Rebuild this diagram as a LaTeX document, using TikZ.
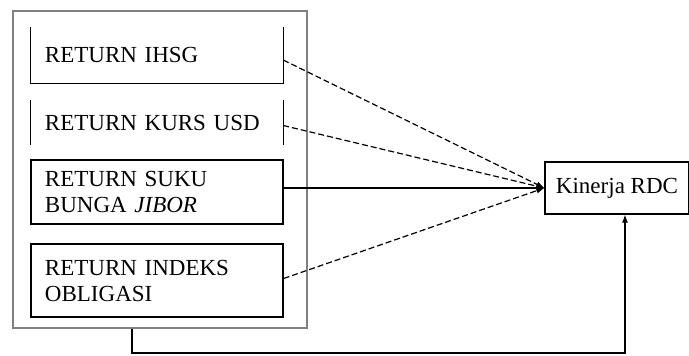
\documentclass[tikz,border=0pt]{standalone}
\usepackage{fontspec}
\setmainfont{Liberation Serif}
\usetikzlibrary{arrows.meta}
\begin{document}
\begin{tikzpicture}[x=1pt,y=-1pt,>={Latex[length=8pt,width=6pt]},
  var/.style={minimum width=252pt,inner sep=0pt,align=left,text width=224pt,
    font=\fontsize{23}{26}\selectfont},
  hub/.style={draw,line width=1.2pt,minimum width=144pt,minimum height=52pt,inner sep=0pt,
    font=\fontsize{23}{26}\selectfont},
  link/.style={line width=1.2pt,dash pattern=on 6pt off 3pt}]
	\useasboundingbox (0,0) rectangle (689,356);
	\node	(outer) at (160,169.5) [draw=gray,line width=1.5pt,minimum width=294pt,minimum height=317pt] {};
	\node	(ihsg) at (157,55) [var,minimum height=56pt] {RETURN IHSG};
	\node	(kurs) at (157,122.5) [var,minimum height=45pt] {RETURN KURS USD};
	\node	(suku) at (157,192) [var,draw,line width=1.2pt,minimum height=64pt] {RETURN SUKU\\BUNGA \textit{JIBOR}};
	\node	(indeks) at (157,280.5) [var,draw,line width=1.2pt,minimum height=73pt] {RETURN INDEKS\\OBLIGASI};
	\node	(kinerja) at (617,188) [hub] {Kinerja RDC};
	\coordinate (lp) at (132,353);
	\draw[line width=1.2pt] (ihsg.north west) -- (ihsg.south west) -- (ihsg.south east) -- (ihsg.north east);
	\draw[line width=1.2pt] (kurs.north west) -- (kurs.south west) (kurs.north east) -- (kurs.south east);
	\draw
	([yshift=-5pt]ihsg.east) edge[->,link] (kinerja.west)
	([yshift=-3pt]kurs.east) edge[->,link] (kinerja.west)
	(suku.east |- kinerja.west) edge[->,line width=1.2pt] (kinerja.west)
	([yshift=2pt]indeks.east) edge[->,link] (kinerja.west)
	;
	\draw[->,line width=1.2pt] (outer.south -| lp) -- (lp) -| ([xshift=8pt]kinerja.south);
\end{tikzpicture}
\end{document}
